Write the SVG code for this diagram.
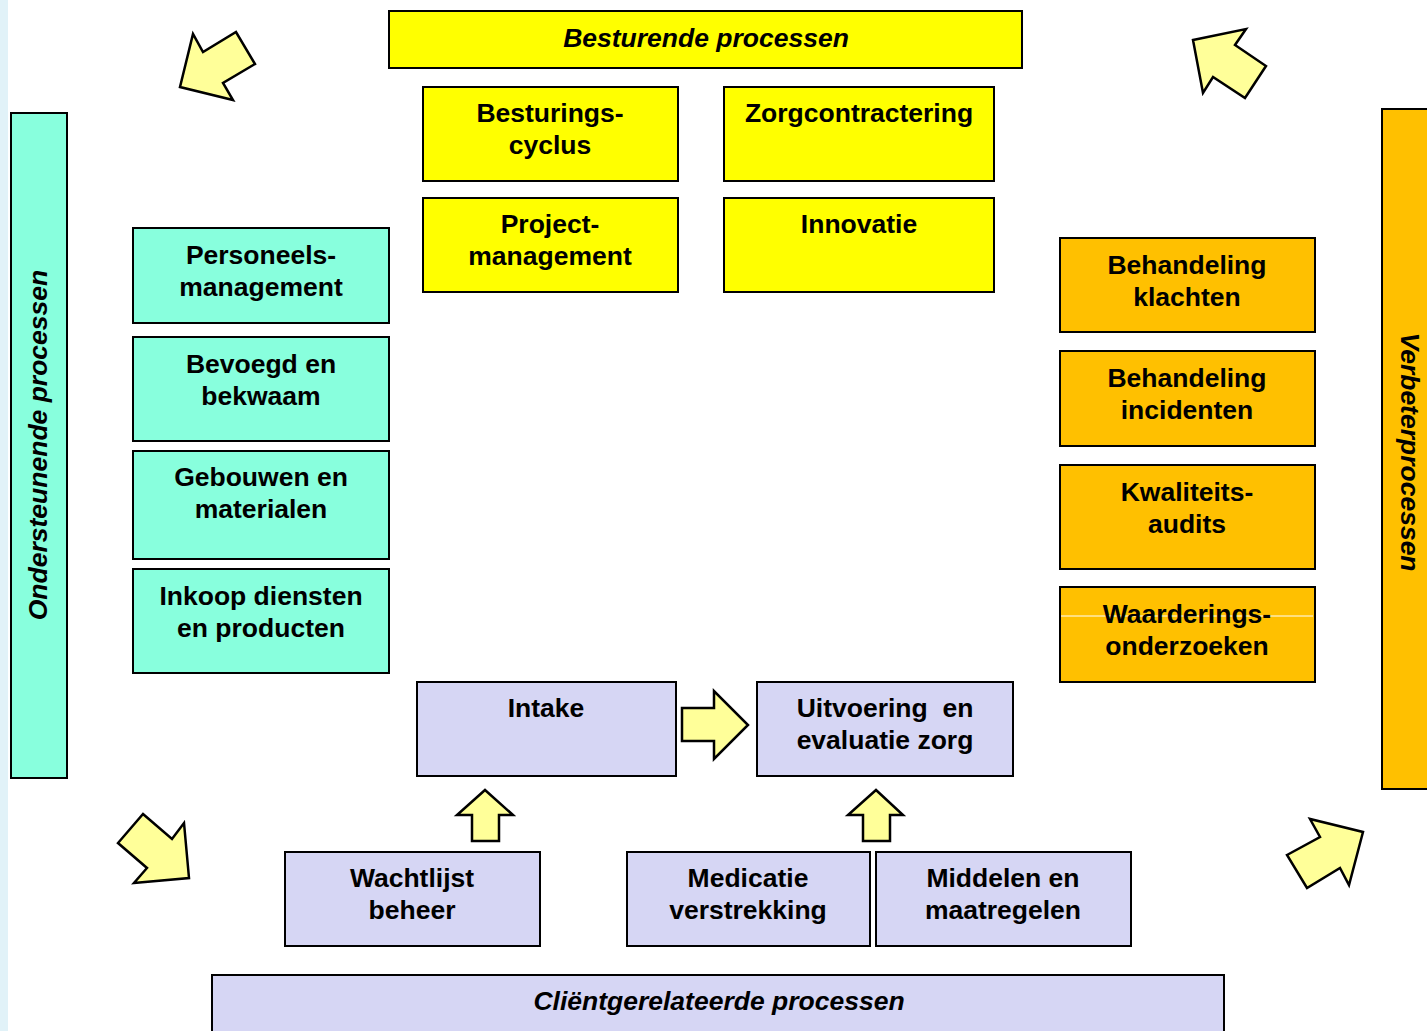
<svg xmlns="http://www.w3.org/2000/svg" width="1427" height="1031" viewBox="0 0 1427 1031">
<style>
.box{stroke:#000;stroke-width:2}
.y{fill:#FFFF00}
.t{fill:#88FFDD}
.o{fill:#FFC000}
.l{fill:#D6D6F4}
.arr{fill:#FFFF99;stroke:#000;stroke-width:2.5;stroke-linejoin:miter}
text{font-family:"Liberation Sans",Arial,sans-serif;font-weight:bold;font-size:26.5px;text-anchor:middle;fill:#000}
.it{font-style:italic}
</style>
<rect x="0" y="0" width="1427" height="1031" fill="#fff"/>
<rect x="0" y="0" width="8" height="1031" fill="#E1F2F8"/>

<g id="besturende"><rect class="box y" x="389" y="11" width="633" height="57"/><text class="it" x="706" y="47">Besturende processen</text></g>
<g id="besturingscyclus"><rect class="box y" x="423" y="87" width="255" height="94"/><text x="550" y="122">Besturings-</text><text x="550" y="154">cyclus</text></g>
<g id="zorgcontractering"><rect class="box y" x="724" y="87" width="270" height="94"/><text x="859" y="122">Zorgcontractering</text></g>
<g id="projectmanagement"><rect class="box y" x="423" y="198" width="255" height="94"/><text x="550" y="233">Project-</text><text x="550" y="265">management</text></g>
<g id="innovatie"><rect class="box y" x="724" y="198" width="270" height="94"/><text x="859" y="233">Innovatie</text></g>

<g id="ondersteunende"><rect class="box t" x="11" y="113" width="56" height="665"/><text class="it" transform="translate(47,445) rotate(-90)">Ondersteunende processen</text></g>
<g id="personeelsmanagement"><rect class="box t" x="133" y="228" width="256" height="95"/><text x="261" y="264">Personeels-</text><text x="261" y="296">management</text></g>
<g id="bevoegd"><rect class="box t" x="133" y="337" width="256" height="104"/><text x="261" y="373">Bevoegd en</text><text x="261" y="405">bekwaam</text></g>
<g id="gebouwen"><rect class="box t" x="133" y="451" width="256" height="108"/><text x="261" y="486">Gebouwen en</text><text x="261" y="518">materialen</text></g>
<g id="inkoop"><rect class="box t" x="133" y="569" width="256" height="104"/><text x="261" y="605">Inkoop diensten</text><text x="261" y="637">en producten</text></g>

<g id="verbeterprocessen"><rect class="box o" x="1382" y="109" width="50" height="680"/><text class="it" transform="translate(1401,452) rotate(90)">Verbeterprocessen</text></g>
<g id="klachten"><rect class="box o" x="1060" y="238" width="255" height="94"/><text x="1187" y="274">Behandeling</text><text x="1187" y="306">klachten</text></g>
<g id="incidenten"><rect class="box o" x="1060" y="351" width="255" height="95"/><text x="1187" y="387">Behandeling</text><text x="1187" y="419">incidenten</text></g>
<g id="audits"><rect class="box o" x="1060" y="465" width="255" height="104"/><text x="1187" y="501">Kwaliteits-</text><text x="1187" y="533">audits</text></g>
<g id="waarderingsonderzoeken"><rect class="box o" x="1060" y="587" width="255" height="95"/><line x1="1061" y1="616" x2="1313" y2="616" stroke="#fff" stroke-width="1"/><text x="1187" y="623">Waarderings-</text><text x="1187" y="655">onderzoeken</text></g>

<g id="intake"><rect class="box l" x="417" y="682" width="259" height="94"/><text x="546" y="717">Intake</text></g>
<g id="uitvoering"><rect class="box l" x="757" y="682" width="256" height="94"/><text x="885" y="717" xml:space="preserve">Uitvoering  en</text><text x="885" y="749">evaluatie zorg</text></g>
<g id="wachtlijst"><rect class="box l" x="285" y="852" width="255" height="94"/><text x="412" y="887">Wachtlijst</text><text x="412" y="919">beheer</text></g>
<g id="medicatie"><rect class="box l" x="627" y="852" width="243" height="94"/><text x="748" y="887">Medicatie</text><text x="748" y="919">verstrekking</text></g>
<g id="middelen"><rect class="box l" x="876" y="852" width="255" height="94"/><text x="1003" y="887">Middelen en</text><text x="1003" y="919">maatregelen</text></g>
<g id="clientgerelateerde"><rect class="box l" x="212" y="975" width="1012" height="60"/><text class="it" x="719" y="1010">Cliëntgerelateerde processen</text></g>

<g id="connectors">
<polygon class="arr" points="180,87 193,34 203,52 236,32 255,64 223,83 233,100"/>
<polygon class="arr" points="1193,40 1246,29 1235,45 1266,66 1245,98 1213,77 1203,93"/>
<polygon class="arr" points="143,814 172,839 184,823 189,878 134,883 147,868 118,843"/>
<polygon class="arr" points="1287,855 1320,837 1310,819 1363,832 1349,885 1340,868 1307,888"/>
<polygon class="arr" points="682,708 714,708 714,691 748,725 714,759 714,741 682,741"/>
<polygon class="arr" points="485,790 513,815 499,815 499,841 472,841 472,815 457,815"/>
<polygon class="arr" points="876,790 903,815 890,815 890,841 863,841 863,815 848,815"/>
</g>
</svg>
